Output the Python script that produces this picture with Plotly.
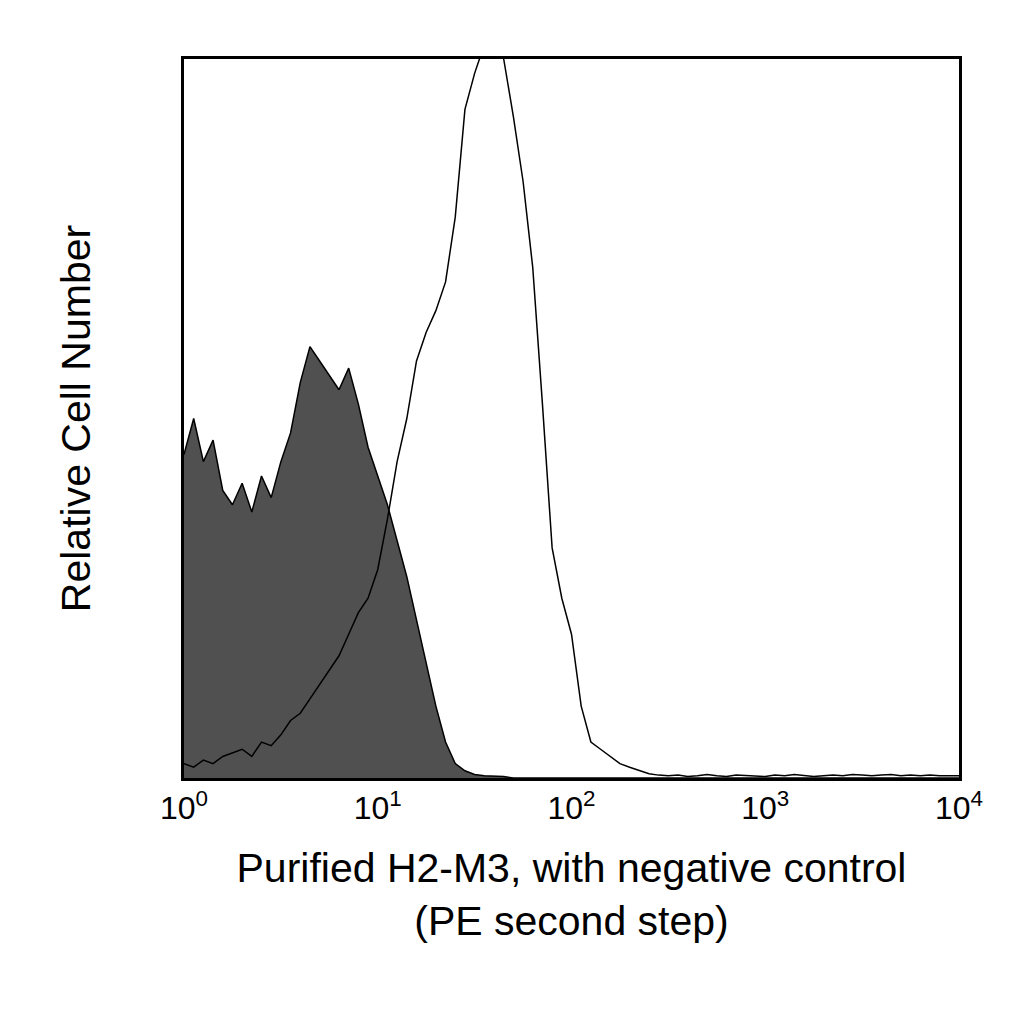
import numpy as np
import plotly.graph_objects as go

log_x = [i*0.05 for i in range(81)]
control = [45,50,44,47,40,38,41,37,42,39,44,48,55,60,58,56,54,57,52,46,42,38,33,28,22,16,10,5,2,1,0.5,0.3,0.3,0.2]
control += [0]*(81-len(control))
stained = [2,1.5,2.5,2,3,3.5,4,3,5,4.5,6,8,9,11,13,15,17,20,23,25,29,36,44,50,58,62,65,69,78,93,98,102,102,100,92,83,71,52,32,25,20,10,5,4,3,2,1.5,1,0.6,0.4]
stained += [0.3,0.4,0.2,0.3,0.5,0.3,0.2,0.4,0.3,0.3,0.2,0.4,0.3,0.5,0.3,0.2,0.3,0.4,0.3,0.5,0.4,0.3,0.4,0.5,0.3,0.4,0.3,0.4,0.3,0.3,0.3]
stained = stained[:81]
tick_vals = [1, 10, 100, 1000, 10000]
tick_text = ["10<sup>0</sup>", "10<sup>1</sup>", "10<sup>2</sup>", "10<sup>3</sup>", "10<sup>4</sup>"]

x = [10**v for v in log_x]
fig = go.Figure()
fig.add_trace(go.Scatter(x=x, y=control, mode="lines", line=dict(color="black", width=1.5),
                         fill="tozeroy", fillcolor="#505050"))
fig.add_trace(go.Scatter(x=x, y=stained, mode="lines", line=dict(color="black", width=1.5)))
fig.update_layout(
    width=1024, height=1024, showlegend=False, plot_bgcolor="white", paper_bgcolor="white",
    margin=dict(l=176, r=73, t=51, b=254),
    font=dict(family="Liberation Sans, Arial", size=34, color="black"),
)
fig.update_xaxes(type="log", range=[0, 4], tickvals=tick_vals, ticktext=tick_text, showgrid=False,
                 showline=True, linecolor="black", linewidth=3, mirror=True, zeroline=False, ticks="",
                 tickfont=dict(size=32),
                 title=dict(text="Purified H2-M3, with negative control<br>(PE second step)", standoff=28))
fig.update_yaxes(range=[0, 100], showticklabels=False, showgrid=False, showline=True, linecolor="black",
                 linewidth=3, mirror=True, zeroline=False, ticks="",
                 title=dict(text="Relative Cell Number", standoff=78))
fig.write_html("out.html")
